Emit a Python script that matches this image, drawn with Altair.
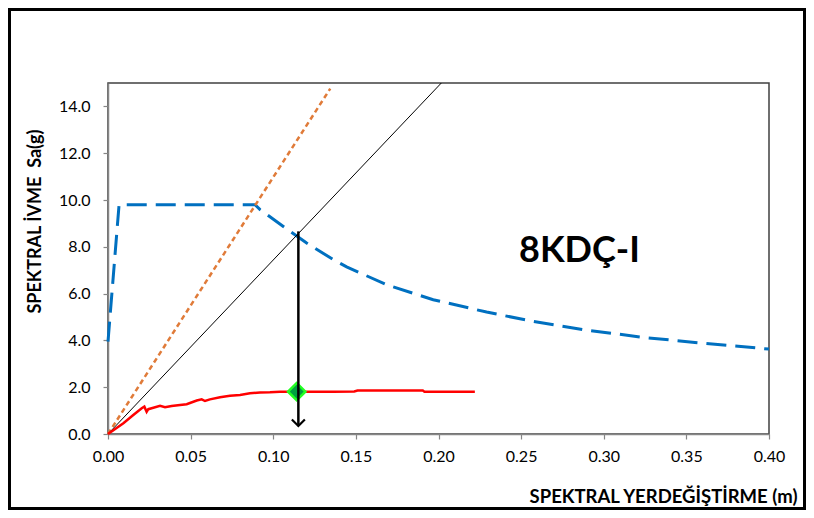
import altair as alt
import pandas as pd

# ---- data ----
# demand spectrum (blue dashed)
blue_x = [0.0, 0.0067, 0.089, 0.092, 0.1061, 0.1202, 0.1364, 0.1444, 0.1686, 0.1968,
          0.2291, 0.2574, 0.2896, 0.3240, 0.3582, 0.40]
blue_y = [3.95, 9.80, 9.80, 9.59, 8.87, 8.16, 7.45, 7.14, 6.38, 5.74,
          5.21, 4.81, 4.44, 4.13, 3.89, 3.63]

# orange dashed line (initial period line)
orange_x = [0.0, 0.1345]
orange_y = [0.0, 14.76]

# black thin line (effective period line)
black_x = [0.0, 0.2017]
black_y = [0.0, 15.0]

# capacity curve (red)
red_x = [0.0, 0.0093, 0.0153, 0.0204, 0.0220, 0.0234, 0.0244, 0.0264, 0.0315, 0.0345,
         0.0385, 0.0436, 0.0476, 0.0537, 0.0567, 0.0587, 0.0617, 0.0678, 0.0738, 0.0799,
         0.0859, 0.0920, 0.0980, 0.1041, 0.1142, 0.1243, 0.1364, 0.1490, 0.1510, 0.1905,
         0.1915, 0.2220]
red_y = [0.0, 0.46, 0.81, 1.10, 1.17, 0.95, 1.06, 1.10, 1.20, 1.14,
         1.20, 1.24, 1.27, 1.43, 1.48, 1.41, 1.48, 1.57, 1.63, 1.67,
         1.74, 1.77, 1.78, 1.81, 1.81, 1.81, 1.81, 1.82, 1.86, 1.86,
         1.81, 1.81]

# performance point
perf_x = [0.1142]
perf_y = [1.81]

# arrow
arrow_x = [0.1152]
arrow_top = [8.66]
arrow_tip = [0.34]

# label
label_text = ["8KDÇ-I"]
label_x = [0.2853]
label_y = [7.36]

x_ticks = [0.0, 0.05, 0.10, 0.15, 0.20, 0.25, 0.30, 0.35, 0.40]
y_ticks = [0, 2, 4, 6, 8, 10, 12, 14]

x_title = "SPEKTRAL YERDEĞİŞTİRME (m)"
y_title = "SPEKTRAL İVME \u00a0Sa(g)"

FONT = "Lato"

blue = pd.DataFrame({"x": blue_x, "y": blue_y})
orange = pd.DataFrame({"x": orange_x, "y": orange_y})
black = pd.DataFrame({"x": black_x, "y": black_y})
red = pd.DataFrame({"x": red_x, "y": red_y})
perf = pd.DataFrame({"x": perf_x, "y": perf_y})
arrow = pd.DataFrame({"x": arrow_x, "y": arrow_top, "y2": arrow_tip})
tip = pd.DataFrame({"x": arrow_x, "y": arrow_tip})
label = pd.DataFrame({"x": label_x, "y": label_y, "t": label_text})
frame = pd.DataFrame({"a": [0]})

xs = alt.Scale(domain=[0, 0.4], nice=False, zero=False)
ys = alt.Scale(domain=[0, 15], nice=False, zero=False)

x_axis = alt.Axis(values=x_ticks, format=".2f", title=x_title, labelFlush=False,
                  titleAlign="right", titleAnchor="end", titleX=689, titleY=68,
                  titleBaseline="alphabetic", labelPadding=9, titleFontSize=18.5)
y_axis = alt.Axis(values=y_ticks, format=".1f", title=y_title, labelFlush=False,
                  titleAngle=270, titleX=-68, titleY=138, titleAlign="center",
                  titleAnchor="middle", titleBaseline="alphabetic", labelPadding=13,
                  titleFontSize=18)

X = alt.X("x:Q", scale=xs, axis=x_axis)
Y = alt.Y("y:Q", scale=ys, axis=y_axis)

l_blue = alt.Chart(blue).mark_line(color="#0070C0", strokeWidth=3, strokeDash=[20, 9]).encode(x=X, y=Y)
l_orange = alt.Chart(orange).mark_line(color="#E07B39", strokeWidth=2.5, strokeDash=[5, 3.5]).encode(x=X, y=Y)
l_black = alt.Chart(black).mark_line(color="black", strokeWidth=1).encode(x=X, y=Y)
l_red = alt.Chart(red).mark_line(color="#FF0000", strokeWidth=2.5).encode(x=X, y=Y)
p_perf = alt.Chart(perf).mark_point(shape="diamond", filled=True, size=300, fill="#00A040",
                                    stroke="#22FF22", strokeWidth=2.5, opacity=1).encode(x=X, y=Y)
r_arrow = alt.Chart(arrow).mark_rule(color="black", strokeWidth=2.5).encode(x=X, y=Y, y2="y2:Q")
p_tip = alt.Chart(tip).mark_point(shape="M-1,-1L0,0L1,-1", filled=False, size=169, color="black",
                                  strokeWidth=2.2, opacity=1).encode(x=X, y=Y)
t_label = alt.Chart(label).mark_text(font=FONT, fontSize=36, fontWeight="bold", align="center",
                                     baseline="alphabetic", color="black").encode(x=X, y=Y, text="t:N")
r_frame = alt.Chart(frame).mark_rect(filled=False, stroke="black", strokeWidth=3).encode(
    x=alt.value(-98.5), x2=alt.value(696.5), y=alt.value(-73.5), y2=alt.value(425.5))

chart = alt.layer(l_blue, l_orange, l_black, l_red, p_perf, r_arrow, p_tip, t_label, r_frame).properties(
    width=661, height=351,
    autosize=alt.AutoSizeParams(type="none"),
    padding={"left": 100, "top": 75, "right": 37, "bottom": 76},
    background="white",
).configure_view(
    stroke="#404040", strokeWidth=1.5
).configure_axis(
    grid=False,
    labelFont=FONT, labelFontSize=16, labelColor="black",
    titleFont=FONT, titleFontWeight="bold", titleColor="black",
    domainColor="#868686", domainWidth=1.5, tickColor="#868686", tickSize=5, tickWidth=1.2,
)

chart.save("out.html", embed_options={"renderer": "svg", "actions": False})
